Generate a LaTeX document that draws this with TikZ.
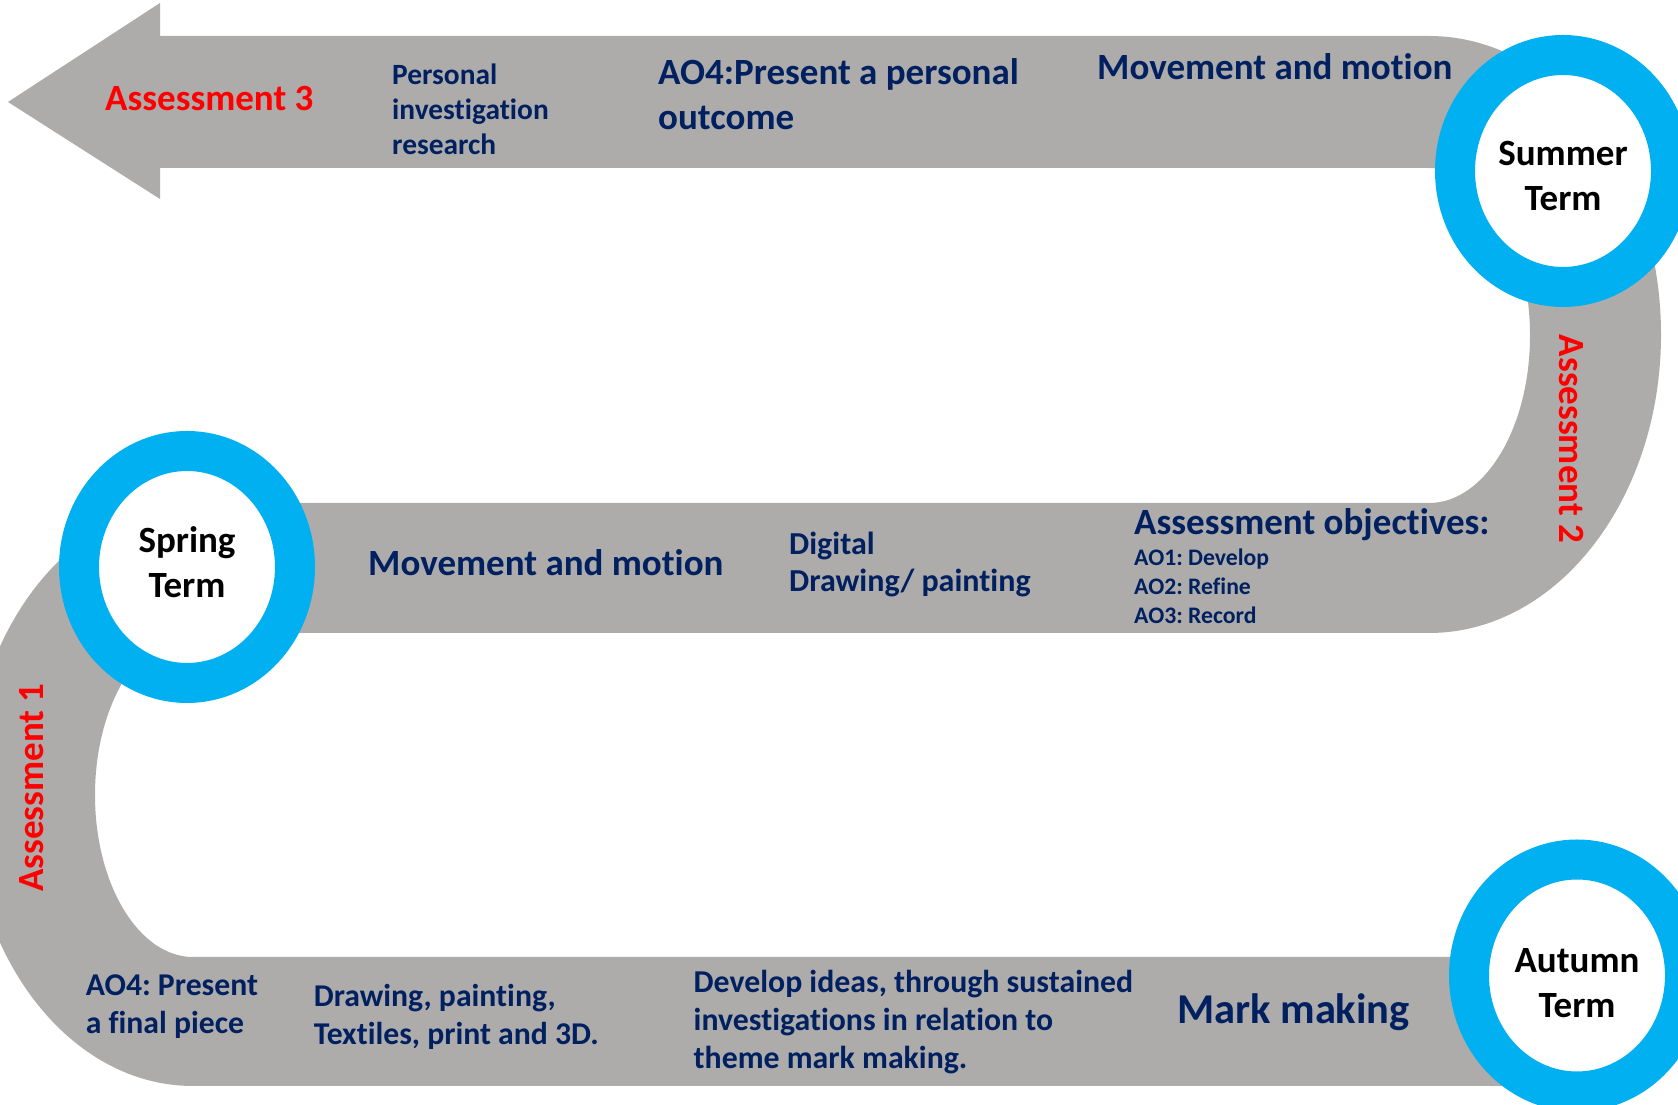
\documentclass[tikz,border=0pt]{standalone}
\usepackage{fontspec}
\setmainfont[Ligatures=NoCommon]{Carlito}
\usetikzlibrary{shapes.geometric}
\definecolor{bandgray}{HTML}{AEABAB}
\definecolor{ringblue}{HTML}{00B0F0}
\definecolor{navy}{HTML}{002060}
\definecolor{redlbl}{HTML}{FF0000}
\frenchspacing
\begin{document}
\begin{tikzpicture}[x=1pt,y=1pt,
  ring/.style={ellipse, draw=ringblue, line width=40pt, fill=white,
    minimum width=216pt, minimum height=232pt, inner sep=0pt},
  termtext/.style={align=center, inner sep=0pt, text=black,
    font=\fontsize{37}{45}\selectfont\bfseries},
  lbl/.style={anchor=west, align=left, inner sep=0pt, text=navy},
  fbig/.style={font=\fontsize{37}{45}\selectfont\bfseries},
  fmid/.style={font=\fontsize{31.8}{38}\selectfont\bfseries},
  fsmall/.style={font=\fontsize{29.4}{35}\selectfont\bfseries},
  ftiny/.style={font=\fontsize{23.7}{29}\selectfont\bfseries},
  assess/.style={inner sep=0pt, text=redlbl, font=\fontsize{37}{45}\selectfont\bfseries}
]
\clip (0,0) rectangle (1678,1105);
\fill[white] (0,0) rectangle (1678,1105);
% serpentine band
\fill[bandgray] (8,1003) -- (160,1102) -- (160,1069) -- (1429,1069)
  arc[start angle=90, end angle=-90, x radius=232, y radius=298.5]
  -- (193,472)
  arc[start angle=90, end angle=270, x radius=98, y radius=162]
  -- (1577,148) -- (1577,19) -- (193,19)
  arc[start angle=270, end angle=90, x radius=224, y radius=291.5]
  -- (1429,602)
  arc[start angle=-90, end angle=90, x radius=101, y radius=167.5]
  -- (160,937) -- (160,906) -- cycle;
% term rings
\node[ring] (summer) at (1563,934) {};
\node[ring] (spring) at (187,538) {};
\node[ring] (autumn) at (1577,129.5) {};
\node[termtext] (summerT) at (1563,929.2) {Summer\\Term};
\node[termtext] (springT) at (187,542.8) {Spring\\Term};
\node[termtext] (autumnT) at (1577,121.5) {Autumn\\Term};
% top band texts
\node[assess, anchor=west] (a3) at (105,1006.5) {Assessment 3};
\node[lbl, fsmall] (pir) at (392,996) {Personal\\investigation\\research};
\node[lbl, fbig] (ao4p) at (658,1011) {AO4:Present a personal\\outcome};
\node[lbl, fbig] (mm1) at (1097,1038.6) {Movement and motion};
\node[assess, rotate=-90] (a2) at (1571,666) {Assessment 2};
% middle band texts
\node[lbl, font=\fontsize{32}{37.5}\selectfont\bfseries] (dig) at (789,540.5) {Digital\\Drawing/ painting};
\node[lbl, fbig] (mm2) at (368,542) {Movement and motion};
\node[lbl, fbig] (aoh) at (1134,580) {Assessment objectives:};
\node[lbl, ftiny] (aol) at (1134,518.5) {AO1: Develop\\AO2: Refine\\AO3: Record};
\node[assess, rotate=90] (a1) at (32,317.4) {Assessment 1};
% bottom band texts
\node[lbl, font=\fontsize{31.7}{37.5}\selectfont\bfseries] (ao4f) at (85.6,98.5) {AO4: Present\\a final piece};
\node[lbl, font=\fontsize{31.7}{38.5}\selectfont\bfseries] (dpt) at (313.6,88) {Drawing, painting,\\Textiles, print and 3D.};
\node[lbl, fmid] (dev) at (693.5,82.5) {Develop ideas, through sustained\\investigations in relation to\\theme mark making.};
\node[lbl, font=\fontsize{42.5}{50}\selectfont\bfseries] (mk) at (1177,93) {Mark making};
\end{tikzpicture}
\end{document}
